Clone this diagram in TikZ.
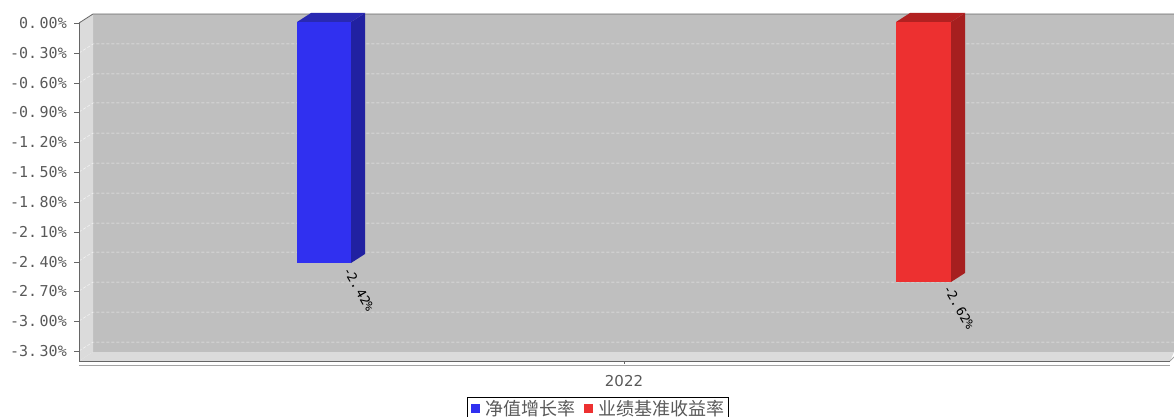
\documentclass[tikz,border=0pt]{standalone}
\usepackage{fontspec}
\usepackage{tikz}
\newfontfamily\numfont{DejaVu Sans Mono}
\newfontfamily\sansnum{DejaVu Sans}
\newfontfamily\cjkfont{Noto Sans CJK SC}
\definecolor{wallgray}{rgb}{0.75,0.75,0.75}
\definecolor{sidegray}{rgb}{0.86,0.86,0.86}
\definecolor{axisgray}{rgb}{0.40,0.40,0.40}
\definecolor{labelgray}{rgb}{0.35,0.35,0.35}
\definecolor{netblue}{rgb}{0.19,0.19,0.94}
\definecolor{netblueside}{rgb}{0.13,0.13,0.63}
\definecolor{netbluetop}{rgb}{0.16,0.16,0.70}
\definecolor{benchred}{rgb}{0.93,0.19,0.19}
\definecolor{benchredside}{rgb}{0.65,0.12,0.12}
\definecolor{benchredtop}{rgb}{0.70,0.13,0.13}
\tikzset{
  ylab/.style={anchor=east,text=labelgray,font=\numfont\fontsize{15}{15}\selectfont,inner sep=0pt},
  gridline/.style={white,dash pattern=on 3pt off 2pt,line width=0.5pt,opacity=0.75},
  barlab/.style={rotate=-60,font=\numfont\fontsize{13}{13}\selectfont,inner sep=0pt},
  legtext/.style={anchor=west,text=labelgray,font=\cjkfont\fontsize{18}{18}\selectfont,inner sep=0pt}
}

\begin{document}
\begin{tikzpicture}[x=1pt,y=-1pt]
	\useasboundingbox (0,0) rectangle (1174,417);

	% walls and floor
	\fill[wallgray] (93,14) rectangle (1174,352);
	\fill[sidegray] (79,23)--(93,14)--(93,352)--(79,361)--cycle;
	\fill[sidegray] (79,361)--(93,352)--(1174,352)--(1170,361)--cycle;
	\draw[axisgray, line width=0.8pt] (79,23)--(93,14)--(1174,14);

	% grid
	\draw[gridline] (79,53)--(93,44)--(1174,44);
	\draw[gridline] (79,83)--(93,74)--(1174,74);
	\draw[gridline] (79,112)--(93,103)--(1174,103);
	\draw[gridline] (79,142)--(93,133)--(1174,133);
	\draw[gridline] (79,172)--(93,163)--(1174,163);
	\draw[gridline] (79,202)--(93,193)--(1174,193);
	\draw[gridline] (79,232)--(93,223)--(1174,223);
	\draw[gridline] (79,261)--(93,252)--(1174,252);
	\draw[gridline] (79,291)--(93,282)--(1174,282);
	\draw[gridline] (79,321)--(93,312)--(1174,312);
	\draw[gridline] (79,351)--(93,342)--(1174,342);

	% axes
	\draw[axisgray, line width=0.8pt] (79,23)--(79,362);
	\draw[axisgray, line width=0.8pt] (79,361)--(1170,361);
	\draw[axisgray!60, line width=0.8pt] (79,365)--(1170,365);
	\draw[axisgray!60, line width=0.8pt] (1170,361)--(1174,357);
	\draw[axisgray, line width=0.6pt] (624,361)--(624,364);

	% y labels
	\node[ylab] (y0) at (67,23) {0.\,00\%};
	\node[ylab] (y1) at (67,53) {-0.\,30\%};
	\node[ylab] (y2) at (67,83) {-0.\,60\%};
	\node[ylab] (y3) at (67,112) {-0.\,90\%};
	\node[ylab] (y4) at (67,142) {-1.\,20\%};
	\node[ylab] (y5) at (67,172) {-1.\,50\%};
	\node[ylab] (y6) at (67,202) {-1.\,80\%};
	\node[ylab] (y7) at (67,232) {-2.\,10\%};
	\node[ylab] (y8) at (67,262) {-2.\,40\%};
	\node[ylab] (y9) at (67,291) {-2.\,70\%};
	\node[ylab] (y10) at (67,321) {-3.\,00\%};
	\node[ylab] (y11) at (67,351) {-3.\,30\%};
	\draw[axisgray, line width=0.6pt] (74,23)--(79,23);
	\draw[axisgray, line width=0.6pt] (74,53)--(79,53);
	\draw[axisgray, line width=0.6pt] (74,83)--(79,83);
	\draw[axisgray, line width=0.6pt] (74,112)--(79,112);
	\draw[axisgray, line width=0.6pt] (74,142)--(79,142);
	\draw[axisgray, line width=0.6pt] (74,172)--(79,172);
	\draw[axisgray, line width=0.6pt] (74,202)--(79,202);
	\draw[axisgray, line width=0.6pt] (74,232)--(79,232);
	\draw[axisgray, line width=0.6pt] (74,262)--(79,262);
	\draw[axisgray, line width=0.6pt] (74,291)--(79,291);
	\draw[axisgray, line width=0.6pt] (74,321)--(79,321);
	\draw[axisgray, line width=0.6pt] (74,351)--(79,351);

	% blue bar
	\fill[netblue] (297,22) rectangle (351,263);
	\fill[netblueside] (351,22)--(365,13)--(365,254)--(351,263)--cycle;
	\fill[netbluetop] (297,22)--(311,13)--(365,13)--(351,22)--cycle;
	\node[barlab] (blab) at (359,289) {-2.\,42\%};

	% red bar
	\fill[benchred] (896,22) rectangle (951,282);
	\fill[benchredside] (951,22)--(965,13)--(965,273)--(951,282)--cycle;
	\fill[benchredtop] (896,22)--(910,13)--(965,13)--(951,22)--cycle;
	\node[barlab] (rlab) at (959,307) {-2.\,62\%};

	\node[text=labelgray,font=\sansnum\fontsize{15}{15}\selectfont] (year) at (624,381) {2022};

	% legend
	\draw[black, line width=0.8pt] (467,397) rectangle (728,420);
	\fill[netblue] (471,404) rectangle (480,413);
	\node[legtext] (lnet) at (485,409) {净值增长率};
	\fill[benchred] (584,404) rectangle (593,413);
	\node[legtext] (lbench) at (598,409) {业绩基准收益率};
\end{tikzpicture}
\end{document}
